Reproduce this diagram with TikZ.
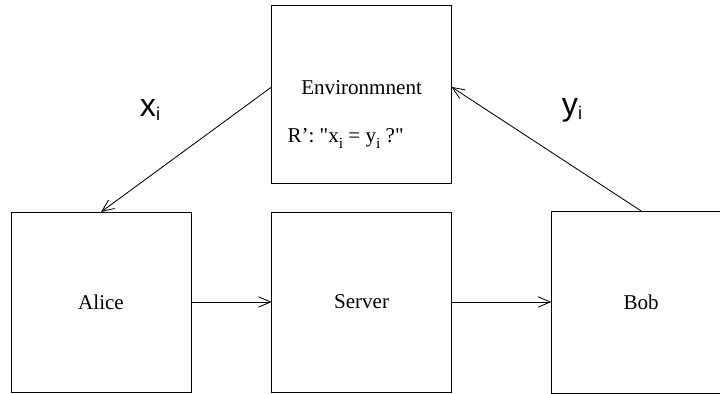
\documentclass[tikz,border=0pt]{standalone}
\usepackage{fontspec}
\setmainfont{Liberation Serif}
\newfontfamily\rawserif[Ligatures=TeXOff]{Liberation Serif}
\newfontfamily\labelfont{Liberation Sans}
\usetikzlibrary{arrows.meta,positioning}
\newcommand\BigSub[2]{%
    {\labelfont\fontsize{23}{23}\selectfont #1}\raisebox{-0.7ex}{\labelfont\fontsize{13}{13}\selectfont #2}%
}
\newcommand\UnderSub[2]{%
    #1\raisebox{-0.65ex}{\fontsize{11}{11}\selectfont #2}%
}
\newcommand\Quote{{\rawserif"}}
\tikzset{
    party/.style={draw, line width=0.6pt, minimum width=4.5cm, minimum height=4.5cm,
        inner sep=0pt, outer sep=0pt, font=\fontsize{15}{18}\selectfont},
    boxtext/.style={font=\fontsize{15}{18}\selectfont, inner sep=0pt},
}
\begin{document}
\begin{tikzpicture}[>={Straight Barb[length=3mm,width=2.6mm]}, line width=0.6pt]
    \useasboundingbox (0,0) rectangle (18,9.85);
    \node[party] (alice) at (2.525,2.3) {Alice};
    \node[party] (server) at (9.04,2.3) {Server};
    \node[party, minimum height=4.55cm] (bob) at (16.03,2.3) {Bob};
    \node[party, minimum height=4.45cm] (env) at (9.04,7.5) {};
    \node[boxtext] (envname) at ([yshift=0.15cm]env.center) {Environmnent};
    \node[boxtext] (envrule) at ([xshift=-0.4cm,yshift=-1.12cm]env.center)
        {R': \Quote\UnderSub{x}{i} = \UnderSub{y}{i} ?\Quote};
    \coordinate (envin) at ([yshift=0.175cm]env.east);
    \coordinate (envout) at ([yshift=0.175cm]env.west);
    % messages
    \draw[->] (envout) -- (alice.north);
    \draw[->] (bob.north) -- (envin);
    \draw[->] (alice.east) -- (server.west);
    \draw[->] (server.east) -- (bob.west);
    \node (xlabel) at (3.75,7.1) {\BigSub{x}{i}};
    \node (ylabel) at (14.3,7.1) {\BigSub{y}{i}};
\end{tikzpicture}
\end{document}
